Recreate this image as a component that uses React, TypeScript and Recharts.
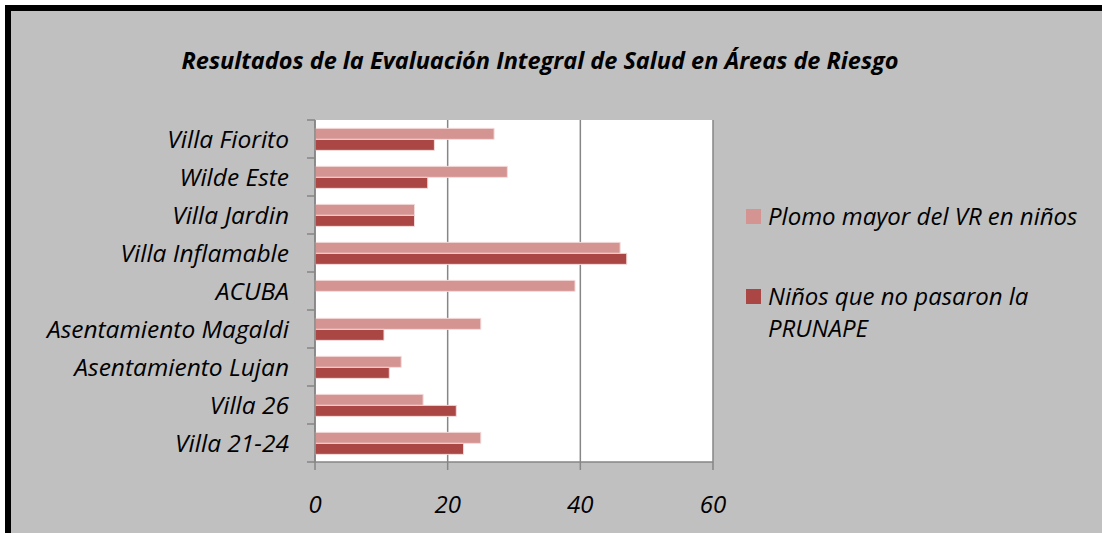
import { BarChart, Bar, XAxis, YAxis, CartesianGrid } from 'recharts';

const areas = [
  'Villa Fiorito',
  'Wilde Este',
  'Villa Jardin',
  'Villa Inflamable',
  'ACUBA',
  'Asentamiento Magaldi',
  'Asentamiento Lujan',
  'Villa 26',
  'Villa 21-24',
];
const plomo = [27, 29, 15, 46, 39.2, 25, 13, 16.3, 25];
const prunape = [18, 17, 15, 47, 0, 10.4, 11.2, 21.3, 22.4];
const xTicks = [0, 20, 40, 60];
const seriesNames = ['Plomo mayor del VR en niños', 'Niños que no pasaron la PRUNAPE'];
const seriesColors = ['#D49492', '#AA4644'];

const data = areas.map((area, i) => ({ area, plomo: plomo[i], prunape: prunape[i] }));

const FONT = '"Open Sans", sans-serif';
const PLOT_TOP = 120;
const PLOT_BOTTOM = 462;
const HALF_BAND = (PLOT_BOTTOM - PLOT_TOP) / areas.length / 2;

function AreaTick(props: any) {
  const { x, y, payload, index } = props;
  const isLast = index === areas.length - 1;
  return (
    <g>
      <line x1={x + 18} x2={x + 26} y1={y - HALF_BAND} y2={y - HALF_BAND} stroke="#868686" strokeWidth={1.5} />
      {isLast && (
        <line x1={x + 18} x2={x + 26} y1={y + HALF_BAND} y2={y + HALF_BAND} stroke="#868686" strokeWidth={1.5} />
      )}
      <text x={x} y={y} dy="0.36em" textAnchor="end" fontFamily={FONT} fontStyle="italic" fontSize={24.5} fill="#000">
        {payload.value}
      </text>
    </g>
  );
}

function LegendBox() {
  return (
    <div
      style={{
        position: 'absolute',
        left: 746,
        top: 200,
        width: 340,
        fontFamily: FONT,
        fontStyle: 'italic',
        fontSize: 24,
        color: '#000',
        lineHeight: '32px',
      }}
    >
      <div style={{ display: 'flex', alignItems: 'flex-start', marginBottom: 48 }}>
        <span style={{ width: 15, height: 15, background: seriesColors[0], marginTop: 9, marginRight: 7, flexShrink: 0 }} />
        <span>{seriesNames[0]}</span>
      </div>
      <div style={{ display: 'flex', alignItems: 'flex-start', width: 310 }}>
        <span style={{ width: 15, height: 15, background: seriesColors[1], marginTop: 9, marginRight: 7, flexShrink: 0 }} />
        <span>{seriesNames[1]}</span>
      </div>
    </div>
  );
}

export default function App() {
  return (
    <div style={{ position: 'fixed', left: 0, top: 0, width: 1102, height: 533, overflow: 'hidden', background: '#c0c0c0' }}>
      <div
        style={{
          position: 'absolute',
          left: 0,
          top: 0,
          width: 1200,
          height: 5,
          background: '#fff',
        }}
      />
      <div
        style={{
          position: 'absolute',
          left: 0,
          top: 0,
          width: 5,
          height: 600,
          background: '#fff',
        }}
      />
      <div
        style={{
          position: 'absolute',
          left: 5,
          top: 5,
          width: 1200,
          height: 6,
          background: '#000',
        }}
      />
      <div
        style={{
          position: 'absolute',
          left: 5,
          top: 5,
          width: 6,
          height: 600,
          background: '#000',
        }}
      />
      <div
        style={{
          position: 'absolute',
          left: 0,
          top: 44,
          width: 1080,
          textAlign: 'center',
          fontFamily: FONT,
          fontStyle: 'italic',
          fontWeight: 'bold',
          fontSize: 23.5,
          color: '#000',
        }}
      >
        Resultados de la Evaluación Integral de Salud en Áreas de Riesgo
      </div>
      <div style={{ position: 'absolute', left: 0, top: 0 }}>
        <BarChart
          width={1102}
          height={533}
          data={data}
          layout="vertical"
          margin={{ top: PLOT_TOP, right: 389, bottom: 31, left: 0 }}
          barCategoryGap="22%"
          barGap={0}
        >
          <CartesianGrid horizontal={false} fill="#ffffff" stroke="#868686" strokeWidth={1.5} />
          <XAxis
            type="number"
            domain={[0, 60]}
            ticks={xTicks}
            height={40}
            axisLine={{ stroke: '#868686', strokeWidth: 1.5 }}
            tickLine={{ stroke: '#868686', strokeWidth: 1.5 }}
            tickSize={8}
            tickMargin={26}
            tick={{ fontFamily: FONT, fontStyle: 'italic', fontSize: 24, fill: '#000' }}
            interval={0}
          />
          <YAxis
            type="category"
            dataKey="area"
            width={315}
            axisLine={{ stroke: '#868686', strokeWidth: 1.5 }}
            tickLine={false}
            tickSize={0}
            tickMargin={26}
            tick={<AreaTick />}
            interval={0}
          />
          <Bar dataKey="plomo" name={seriesNames[0]} fill={seriesColors[0]} stroke="#f3dada" strokeWidth={1} isAnimationActive={false} />
          <Bar dataKey="prunape" name={seriesNames[1]} fill={seriesColors[1]} stroke="#f3dada" strokeWidth={1} isAnimationActive={false} />
        </BarChart>
      </div>
      <LegendBox />
    </div>
  );
}
